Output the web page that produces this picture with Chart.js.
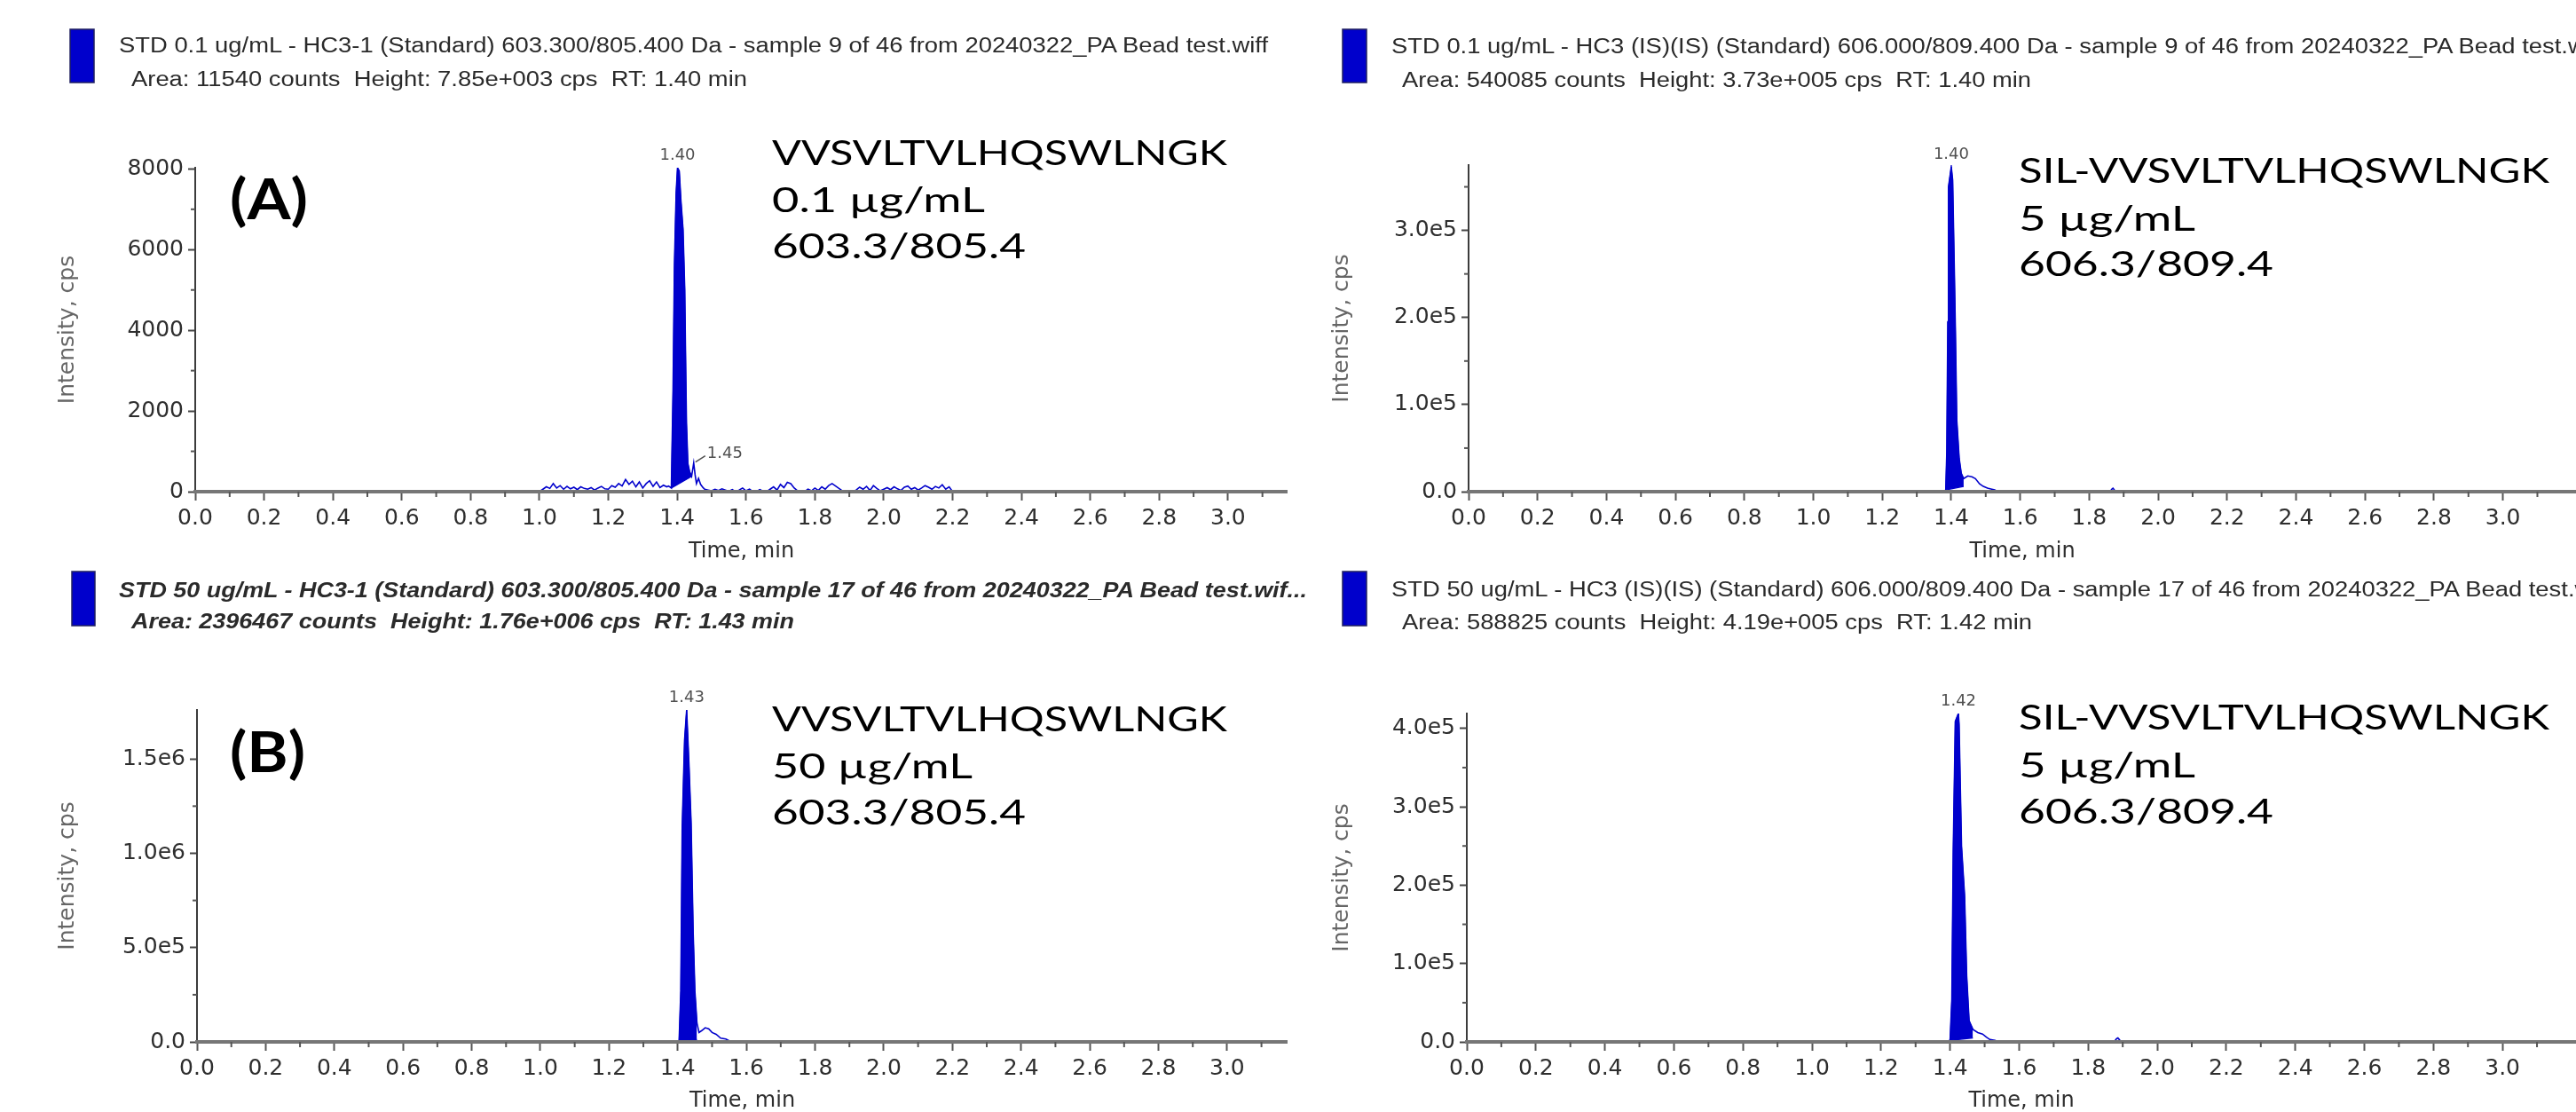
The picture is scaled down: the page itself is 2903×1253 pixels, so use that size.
<!DOCTYPE html>
<html>
<head>
<meta charset="utf-8">
<script src="https://cdn.jsdelivr.net/npm/chart.js@4.4.1/dist/chart.umd.min.js"></script>
<style>
html, body { margin: 0; padding: 0; background: #fff; }
body { width: 2903px; height: 1253px; position: relative; overflow: hidden; }
.panel { position: absolute; }
.panel canvas { display: block; }
#labels { position: absolute; left: 0; top: 0; pointer-events: none; }
#labels text { white-space: pre; }
.hdr { font-family: "Liberation Sans", Arial, sans-serif; font-size: 23px; fill: #2a2a2a; }
.hdrB { font-weight: bold; font-style: italic; }
.ann { font-family: Lato, "Open Sans", sans-serif; font-size: 38px; fill: #000; }
.tag { font-family: Lato, "Open Sans", sans-serif; font-size: 64px; font-weight: bold; fill: #000; }
</style>
</head>
<body>
<div class="panel" style="left:0;top:0"><canvas id="chartA" width="1451" height="640"></canvas></div>
<div class="panel" style="left:1451px;top:0"><canvas id="chartC" width="1452" height="640"></canvas></div>
<div class="panel" style="left:0;top:620px"><canvas id="chartB" width="1451" height="633"></canvas></div>
<div class="panel" style="left:1451px;top:620px"><canvas id="chartD" width="1452" height="633"></canvas></div>

<svg id="labels" width="2903" height="1253">
  <!-- top left -->
  <rect x="79" y="33" width="27" height="60" fill="#0000cc" stroke="#202060" stroke-width="1.5"/>
  <text id="hA1" class="hdr" x="134" y="59" textLength="1295" lengthAdjust="spacingAndGlyphs">STD 0.1 ug/mL - HC3-1 (Standard) 603.300/805.400 Da - sample 9 of 46 from 20240322_PA Bead test.wiff</text>
  <text class="hdr" x="148" y="97" textLength="694" lengthAdjust="spacingAndGlyphs">Area: 11540 counts  Height: 7.85e+003 cps  RT: 1.40 min</text>
  <text class="tag" x="259" y="247" textLength="88" lengthAdjust="spacingAndGlyphs">(A)</text>
  <text class="ann" x="870" y="186" textLength="513" lengthAdjust="spacingAndGlyphs">VVSVLTVLHQSWLNGK</text>
  <text class="ann" x="870" y="239" textLength="240" lengthAdjust="spacingAndGlyphs">0.1 µg/mL</text>
  <text class="ann" x="870" y="291" textLength="286" lengthAdjust="spacingAndGlyphs">603.3/805.4</text>

  <!-- top right -->
  <rect x="1513" y="33" width="27" height="60" fill="#0000cc" stroke="#202060" stroke-width="1.5"/>
  <text id="hC1" class="hdr" x="1568" y="60">STD 0.1 ug/mL - HC3 (IS)(IS) (Standard) 606.000/809.400 Da - sample 9 of 46 from 20240322_PA Bead test.wiff</text>
  <text class="hdr" x="1580" y="98" textLength="709" lengthAdjust="spacingAndGlyphs">Area: 540085 counts  Height: 3.73e+005 cps  RT: 1.40 min</text>
  <text class="ann" x="2275" y="206" textLength="598" lengthAdjust="spacingAndGlyphs">SIL-VVSVLTVLHQSWLNGK</text>
  <text class="ann" x="2275" y="260" textLength="199" lengthAdjust="spacingAndGlyphs">5 µg/mL</text>
  <text class="ann" x="2275" y="311" textLength="287" lengthAdjust="spacingAndGlyphs">606.3/809.4</text>

  <!-- bottom left -->
  <rect x="81" y="644" width="26" height="61" fill="#0000cc" stroke="#202060" stroke-width="1.5"/>
  <text class="hdr hdrB" x="134" y="673" textLength="1339" lengthAdjust="spacingAndGlyphs">STD 50 ug/mL - HC3-1 (Standard) 603.300/805.400 Da - sample 17 of 46 from 20240322_PA Bead test.wif...</text>
  <text class="hdr hdrB" x="148" y="708" textLength="747" lengthAdjust="spacingAndGlyphs">Area: 2396467 counts  Height: 1.76e+006 cps  RT: 1.43 min</text>
  <text class="tag" x="259" y="870" textLength="85" lengthAdjust="spacingAndGlyphs">(B)</text>
  <text class="ann" x="870" y="824" textLength="513" lengthAdjust="spacingAndGlyphs">VVSVLTVLHQSWLNGK</text>
  <text class="ann" x="870" y="877" textLength="226" lengthAdjust="spacingAndGlyphs">50 µg/mL</text>
  <text class="ann" x="870" y="929" textLength="286" lengthAdjust="spacingAndGlyphs">603.3/805.4</text>

  <!-- bottom right -->
  <rect x="1513" y="644" width="27" height="61" fill="#0000cc" stroke="#202060" stroke-width="1.5"/>
  <text id="hD1" class="hdr" x="1568" y="672">STD 50 ug/mL - HC3 (IS)(IS) (Standard) 606.000/809.400 Da - sample 17 of 46 from 20240322_PA Bead test.wiff</text>
  <text class="hdr" x="1580" y="709" textLength="710" lengthAdjust="spacingAndGlyphs">Area: 588825 counts  Height: 4.19e+005 cps  RT: 1.42 min</text>
  <text class="ann" x="2275" y="822" textLength="598" lengthAdjust="spacingAndGlyphs">SIL-VVSVLTVLHQSWLNGK</text>
  <text class="ann" x="2275" y="876" textLength="199" lengthAdjust="spacingAndGlyphs">5 µg/mL</text>
  <text class="ann" x="2275" y="928" textLength="287" lengthAdjust="spacingAndGlyphs">606.3/809.4</text>
</svg>

<script>
// ---- data ----
// (A) analyte, 0.1 ug/mL  (time in min, intensity in cps)
const timeA = [
  1.00, 1.01, 1.02, 1.03, 1.04, 1.05, 1.06, 1.07, 1.08, 1.09,
  1.10, 1.11, 1.12, 1.13, 1.14, 1.15, 1.16, 1.17, 1.18, 1.19,
  1.20, 1.21, 1.22, 1.23, 1.24, 1.25, 1.26, 1.27, 1.28, 1.29,
  1.30, 1.31, 1.32, 1.33, 1.34, 1.35, 1.36, 1.37,
  1.375, 1.383, 1.388, 1.392, 1.397, 1.401, 1.406, 1.411, 1.417, 1.422,
  1.424, 1.427, 1.431, 1.436, 1.442, 1.448, 1.452, 1.456, 1.462, 1.468, 1.475,
  1.48, 1.49, 1.50, 1.51, 1.52, 1.53, 1.54, 1.55, 1.56, 1.57,
  1.58, 1.59, 1.60, 1.61, 1.62, 1.63, 1.64, 1.65, 1.66, 1.67,
  1.68, 1.69, 1.70, 1.71, 1.72, 1.73, 1.74, 1.75, 1.76, 1.77,
  1.78, 1.79, 1.80, 1.81, 1.82, 1.83, 1.84, 1.85, 1.86, 1.87,
  1.88, 1.89, 1.90, 1.91, 1.92, 1.93, 1.94, 1.95, 1.96, 1.97,
  1.98, 1.99, 2.00, 2.01, 2.02, 2.03, 2.04, 2.05, 2.06, 2.07,
  2.08, 2.09, 2.10, 2.11, 2.12, 2.13, 2.14, 2.15, 2.16, 2.17,
  2.18, 2.19, 2.20
];
const intensityA = [
  0, 60, 120, 80, 200, 90, 150, 60, 130, 70,
  110, 50, 120, 80, 60, 100, 40, 90, 130, 70,
  60, 150, 110, 200, 140, 300, 180, 260, 120, 240,
  90, 200, 270, 130, 240, 100, 160, 120,
  140, 90, 2500, 5600, 7400, 8030, 7950, 7200, 6500, 5000,
  3600, 1700, 700, 500, 380, 710, 420, 200, 330, 180, 100,
  60, 40, 20, 60, 30, 70, 40, 10, 50, 0,
  40, 90, 20, 60, 0, 0, 50, 10, 0, 60,
  120, 40, 180, 100, 230, 200, 90, 20, 0, 0,
  60, 20, 90, 30, 120, 60, 150, 200, 140, 80,
  20, 0, 0, 0, 40, 110, 60, 130, 30, 150,
  80, 20, 60, 100, 50, 120, 70, 30, 110, 140,
  60, 100, 40, 90, 150, 110, 60, 130, 90, 170,
  60, 120, 0
];
const baselineA = [[1.383, 90], [1.442, 380]];   // integration baseline (start, end)
const peakTimesA = [1.401, 1.448];
const yTicksA = [0, 2000, 4000, 6000, 8000];
const yMinorA = [1000, 3000, 5000, 7000];

// (A) internal standard, top right
const timeC = [1.378, 1.384, 1.387, 1.390, 1.392, 1.400, 1.404, 1.409, 1.412, 1.416,
  1.423, 1.429, 1.436, 1.448, 1.460, 1.470, 1.482, 1.493, 1.505, 1.515, 1.526, 1.535,
  1.860, 1.866, 1.869, 1.873, 1.878];
const intensityC = [0, 2000, 45000, 195000, 350000, 373000, 358000, 252000, 185000, 82000,
  38000, 21000, 15000, 18000, 17000, 15000, 9000, 6000, 4000, 3000, 2000, 0,
  0, 3000, 4000, 2000, 0];
const baselineC = [[1.384, 2000], [1.436, 6000]];
const peakTimesC = [1.400];
const yTicksC = [0, 100000, 200000, 300000];
const yMinorC = [50000, 150000, 250000, 350000];

// (B) analyte, 50 ug/mL
const timeB = [1.395, 1.404, 1.409, 1.413, 1.420, 1.426, 1.433, 1.439, 1.445, 1.450,
  1.456, 1.462, 1.470, 1.480, 1.490, 1.500, 1.512, 1.525, 1.540, 1.551, 1.560];
const intensityB = [0, 5000, 270000, 1130000, 1600000, 1760000, 1460000, 1160000, 580000, 270000,
  100000, 50000, 60000, 75000, 70000, 50000, 40000, 20000, 15000, 5000, 0];
const baselineB = [[1.404, 5000], [1.456, 12000]];
const peakTimesB = [1.426];
const yTicksB = [0, 500000, 1000000, 1500000];
const yMinorB = [250000, 750000, 1250000];

// (B) internal standard, bottom right
const timeD = [1.395, 1.400, 1.405, 1.409, 1.415, 1.424, 1.426, 1.433, 1.442, 1.448,
  1.455, 1.466, 1.480, 1.494, 1.505, 1.515, 1.530, 1.540,
  1.875, 1.882, 1.886, 1.890, 1.895];
const intensityD = [0, 3000, 54000, 242000, 409000, 419000, 405000, 250000, 186000, 84000,
  27000, 16000, 12000, 10000, 6000, 3000, 2000, 0,
  0, 4000, 5000, 3000, 0];
const baselineD = [[1.400, 2000], [1.466, 5000]];
const peakTimesD = [1.424];
const yTicksD = [0, 100000, 200000, 300000, 400000];
const yMinorD = [50000, 150000, 250000, 350000];

const xTicks = [0.0, 0.2, 0.4, 0.6, 0.8, 1.0, 1.2, 1.4, 1.6, 1.8, 2.0, 2.2, 2.4, 2.6, 2.8, 3.0];
const xMinor = [0.1, 0.3, 0.5, 0.7, 0.9, 1.1, 1.3, 1.5, 1.7, 1.9, 2.1, 2.3, 2.5, 2.7, 2.9, 3.1];

const BLUE = '#0000cc';
const AXIS = '#767676';
const TICKTXT = '#2e2e2e';

// minor ticks + peak retention time labels
const chromaExtras = {
  id: 'chromaExtras',
  afterDraw(chart, args, opts) {
    const ctx = chart.ctx;
    const x = chart.scales.x, y = chart.scales.y;
    ctx.save();
    ctx.strokeStyle = '#555';
    ctx.lineWidth = 2;
    xMinor.forEach(v => {
      const px = x.getPixelForValue(v);
      if (px > x.right) return;
      ctx.beginPath(); ctx.moveTo(px, y.bottom); ctx.lineTo(px, y.bottom + 6); ctx.stroke();
    });
    opts.yMinor.forEach(v => {
      const py = y.getPixelForValue(v);
      if (py < y.top) return;
      ctx.beginPath(); ctx.moveTo(x.left, py); ctx.lineTo(x.left - 5, py); ctx.stroke();
    });
    ctx.font = '18px "DejaVu Sans"';
    ctx.fillStyle = '#505050';
    ctx.strokeStyle = '#505050';
    ctx.lineWidth = 1.5;
    opts.peaks.forEach((t, i) => {
      const k = opts.time.indexOf(t);
      const px = x.getPixelForValue(t), py = y.getPixelForValue(opts.intensity[k]);
      if (i === 0) {
        ctx.textAlign = 'center';
        ctx.fillText(t.toFixed(2), px, py - 9);
      } else {
        ctx.beginPath(); ctx.moveTo(px + 2, py - 1); ctx.lineTo(px + 13, py - 8); ctx.stroke();
        ctx.textAlign = 'left';
        ctx.fillText(t.toFixed(2), px + 15, py - 6);
      }
    });
    ctx.restore();
  }
};

function yLabel(v) {
  if (v === 0) return '0.0';
  return v.toExponential(1).replace('e+', 'e');
}

function makeChart(p) {
  const trace = p.time.map((t, i) => ({ x: t, y: p.intensity[i] }));
  const area = trace.filter(pt => pt.x >= p.baseline[0][0] && pt.x <= p.baseline[1][0]);
  const base = p.baseline.map(b => ({ x: b[0], y: b[1] }));
  return new Chart(document.getElementById(p.id), {
    type: 'line',
    data: {
      datasets: [
        { data: trace, borderColor: BLUE, borderWidth: 1.6, pointRadius: 0, fill: false, tension: 0 },
        { data: area, borderColor: BLUE, backgroundColor: BLUE, borderWidth: 1, pointRadius: 0, fill: '+1', tension: 0 },
        { data: base, borderColor: BLUE, borderWidth: 1.3, pointRadius: 0, fill: false, tension: 0 }
      ]
    },
    options: {
      responsive: false,
      animation: false,
      events: [],
      layout: { padding: { top: p.padTop, right: 0, bottom: 0, left: 0 } },
      plugins: {
        legend: { display: false },
        tooltip: { enabled: false },
        chromaExtras: { yMinor: p.yMinor, peaks: p.peaks, time: p.time, intensity: p.intensity }
      },
      scales: {
        x: {
          type: 'linear', min: 0, max: p.xMax,
          afterBuildTicks: s => { s.ticks = xTicks.map(v => ({ value: v })); },
          afterFit: s => { s.height = p.xHeight; },
          ticks: {
            callback: v => v.toFixed(1), autoSkip: false, maxRotation: 0, padding: 5,
            color: TICKTXT, font: { family: 'DejaVu Sans', size: 25 }
          },
          grid: { drawOnChartArea: false, tickLength: 10, tickWidth: 2, tickColor: '#555' },
          border: { color: AXIS, width: 4, z: 1 },
          title: {
            display: true, text: 'Time, min', color: TICKTXT,
            font: { family: 'DejaVu Sans', size: 24, lineHeight: 1 },
            padding: { top: 0, bottom: p.xTitlePad }
          }
        },
        y: {
          type: 'linear', min: 0, max: p.yMax,
          afterBuildTicks: s => { s.ticks = p.yTicks.map(v => ({ value: v })); },
          afterFit: s => { s.width = p.yWidth; },
          ticks: {
            callback: p.yFmt, padding: 5, color: TICKTXT,
            font: { family: 'DejaVu Sans', size: 25 }
          },
          grid: { drawOnChartArea: false, tickLength: 8, tickWidth: 2, tickColor: '#444' },
          border: { color: '#3c3c3c', width: 2 },
          title: {
            display: true, text: 'Intensity, cps', color: '#666',
            font: { family: 'DejaVu Sans', size: 25, lineHeight: 1 },
            padding: { top: p.yTitlePad, bottom: 0 }
          }
        }
      }
    },
    plugins: [chromaExtras]
  });
}

const panels = [
  { id: 'chartA', time: timeA, intensity: intensityA, baseline: baselineA, peaks: peakTimesA,
    yTicks: yTicksA, yMinor: yMinorA, yMax: 8030, xMax: 3.173, yFmt: v => String(v),
    padTop: 189, yWidth: 220, xHeight: 86, xTitlePad: 6, yTitlePad: 64 },
  { id: 'chartC', time: timeC, intensity: intensityC, baseline: baselineC, peaks: peakTimesC,
    yTicks: yTicksC, yMinor: yMinorC, yMax: 375000, xMax: 3.212, yFmt: yLabel,
    padTop: 186, yWidth: 204, xHeight: 86, xTitlePad: 6, yTitlePad: 49 },
  { id: 'chartB', time: timeB, intensity: intensityB, baseline: baselineB, peaks: peakTimesB,
    yTicks: yTicksB, yMinor: yMinorB, yMax: 1760000, xMax: 3.176, yFmt: yLabel,
    padTop: 180, yWidth: 222, xHeight: 79, xTitlePad: 0, yTitlePad: 64 },
  { id: 'chartD', time: timeD, intensity: intensityD, baseline: baselineD, peaks: peakTimesD,
    yTicks: yTicksD, yMinor: yMinorD, yMax: 419000, xMax: 3.213, yFmt: yLabel,
    padTop: 184, yWidth: 202, xHeight: 79, xTitlePad: 0, yTitlePad: 49 }
];

panels.forEach(makeChart);

// the right-hand header lines run off the page: give them the same squeeze as the left one
const a1 = document.getElementById('hA1');
a1.removeAttribute('textLength');
const squeeze = 1295 / a1.getComputedTextLength();
a1.setAttribute('textLength', 1295);
['hC1', 'hD1'].forEach(id => {
  const el = document.getElementById(id);
  el.setAttribute('textLength', (el.getComputedTextLength() * squeeze).toFixed(1));
  el.setAttribute('lengthAdjust', 'spacingAndGlyphs');
});
</script>
</body>
</html>
